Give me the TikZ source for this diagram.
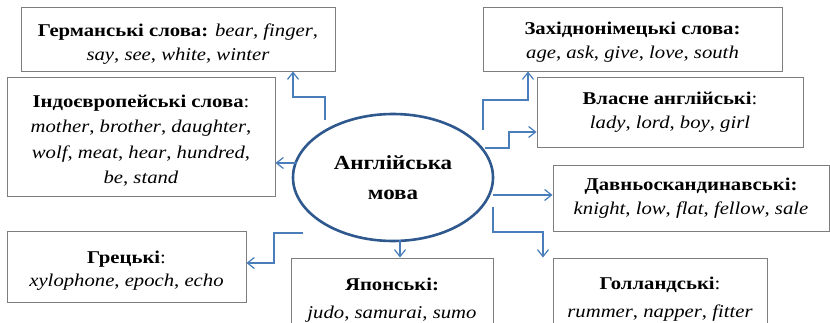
\documentclass[tikz,border=0pt]{standalone}
\usepackage{fontspec}
\setmainfont{Liberation Serif}[FakeStretch=1.15]
\usetikzlibrary{arrows.meta,shapes.geometric}
\definecolor{linkblue}{RGB}{74,126,187}
\definecolor{ellblue}{RGB}{46,88,142}
\definecolor{boxgray}{RGB}{125,125,125}
\newcommand{\dropby}[1]{\rule{0pt}{\dimexpr 12.5pt+2\dimexpr #1pt\relax\relax}}
\begin{document}
\begin{tikzpicture}[x=1pt,y=-1pt,
  box/.style={draw=boxgray, line width=0.9pt, align=center, inner sep=0pt,
    font=\fontsize{18}{23.5}\selectfont, text=black},
  link/.style={draw=linkblue, line width=1.2pt, -{Straight Barb[length=7pt,width=11pt,line width=1.2pt]}},
]
\clip (0,0) rectangle (830,323);
\fill[white] (0,0) rectangle (830,323);

\node[box, minimum width=314, minimum height=64] (B1) at (178,39)
  {\dropby{5}\textbf{Германські слова:} \textit{bear}, \textit{finger},\\ \textit{say}, \textit{see}, \textit{white}, \textit{winter}};
\node[box, minimum width=268, minimum height=119, font=\fontsize{18}{25.5}\selectfont] (B2) at (141,136.5)
  {\dropby{4}\textbf{Індоєвропейські слова}:\\ \textit{mother}, \textit{brother}, \textit{daughter},\\ \textit{wolf}, \textit{meat}, \textit{hear}, \textit{hundred},\\ \textit{be}, \textit{stand}};
\node[box, minimum width=299, minimum height=64] (B3) at (632.5,39)
  {\dropby{3}\textbf{Західнонімецькі слова:}\\ \textit{age}, \textit{ask}, \textit{give}, \textit{love}, \textit{south}};
\node[box, minimum width=266, minimum height=70] (B4) at (670,112)
  {\textbf{Власне англійські}:\\ \textit{lady}, \textit{lord}, \textit{boy}, \textit{girl}};
\node[box, minimum width=276, minimum height=66] (B5) at (691,198)
  {\textbf{Давньоскандинавські:}\\ \textit{knight}, \textit{low}, \textit{flat}, \textit{fellow}, \textit{sale}};
\node[box, minimum width=239, minimum height=71] (B6) at (126.5,266.5)
  {\dropby{4}\textbf{Грецькі}:\\ \textit{xylophone}, \textit{epoch}, \textit{echo}};
\node[box, minimum width=202, minimum height=76, font=\fontsize{18}{28}\selectfont] (B7) at (392,296)
  {\dropby{4}\textbf{Японські:}\\ \textit{judo}, \textit{samurai}, \textit{sumo}};
\node[box, minimum width=214, minimum height=76, font=\fontsize{18}{28}\selectfont] (B8) at (660,296)
  {\dropby{3}\textbf{Голландські}:\\ \textit{rummer}, \textit{napper}, \textit{fitter}};

\node[draw=ellblue, line width=2.6pt, ellipse, minimum width=200, minimum height=127,
  inner sep=0pt, align=center, font=\fontsize{20}{30}\selectfont\bfseries] (E) at (393,177.5)
  {Англійська\\мова};

\coordinate (s1) at (325,120);
\coordinate (s2) at (297,163);
\coordinate (s3) at (483,130);
\coordinate (s4) at (485,148);
\coordinate (s5) at (493,195);
\coordinate (s6) at (493,207);
\coordinate (s7) at (303,233);
\coordinate (s8) at (400,240);

\draw[link] (s1) -- (325,97) -- (293,97) -- (293,97 |- B1.south);
\draw[link] (s2) -- (s2 -| B2.east);
\draw[link] (s3) -- (483,100) -- (528,100) -- (528,100 |- B3.south);
\draw[link] (s4) -- (509,148) -- (509,132) -- (509,132 -| B4.west);
\draw[link] (s5) -- (s5 -| B5.west);
\draw[link] (s6) -- (493,232) -- (543,232) -- (543,232 |- B8.north);
\draw[link] (s7) -- (274,233) -- (274,263) -- (274,263 -| B6.east);
\draw[link] (s8) -- (s8 |- B7.north);
\end{tikzpicture}
\end{document}
